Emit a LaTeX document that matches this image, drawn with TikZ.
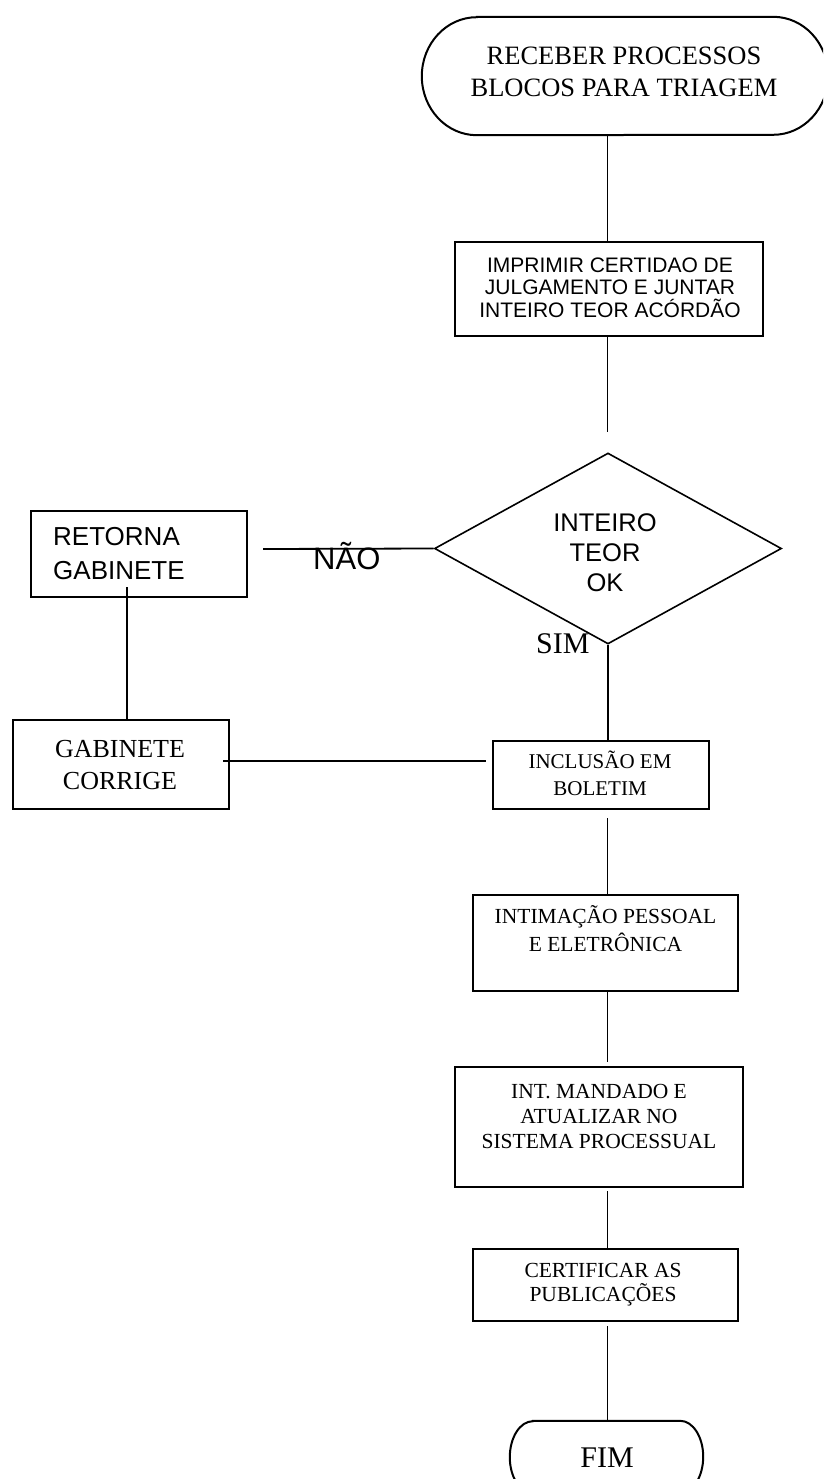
\documentclass[tikz,border=0pt]{standalone}
\usepackage{fontspec}
\setmainfont{Liberation Serif}
\newfontfamily\arialf{Liberation Sans}
\usetikzlibrary{shapes.geometric,fit,calc}
\begin{document}
\begin{tikzpicture}[x=1pt,y=-1pt,
  box/.style={draw, line width=2pt, inner sep=0pt},
  conn/.style={line width=1.8pt},
  tm/.style 2 args={font=\fontsize{#1}{#2}\selectfont, anchor=base, align=center, inner sep=0pt},
  ar/.style 2 args={font=\arialf\fontsize{#1}{#2}\selectfont, anchor=base, align=center, inner sep=0pt},
  termline/.style={line width=2pt}
]
\useasboundingbox (0,0) rectangle (823,1479);
\clip (0,0) rectangle (823,1479);
\coordinate (spine) at (607.5,0);

% start terminal
\node[inner sep=0pt, minimum width=406pt, minimum height=118pt] (start) at (625,76) {};
\draw[termline] ([xshift=55pt]start.north west) -- ([xshift=-55pt]start.north east)
  arc[start angle=90, end angle=-90, x radius=55pt, y radius=59pt]
  -- ([xshift=55pt]start.south west)
  arc[start angle=270, end angle=90, x radius=55pt, y radius=59pt] -- cycle;
\node[tm={26.5}{32}] (tstart) at (624,97) {RECEBER PROCESSOS\\BLOCOS PARA TRIAGEM};

% print box
\node[box, fit={(455,242) (763,336)}] (b2) {};
\node[ar={21}{22.5}] (t2) at (610,317) {IMPRIMIR CERTIDAO DE\\JULGAMENTO E JUNTAR\\INTEIRO TEOR ACÓRDÃO};

% decision
\node[draw, diamond, line width=1.6pt, inner sep=0pt, minimum width=347pt, minimum height=191pt] (dia) at (608,548.5) {};
\node[ar={25.5}{30}] (tdia) at (605,591) {INTEIRO\\TEOR\\OK};

% retorna gabinete
\node[box, fit={(31,511) (247,597)}] (ret) {};
\node[ar={26}{34}, align=left, anchor=base west] (tret) at (53,579) {RETORNA\\GABINETE};

\node[ar={31}{31}, anchor=base west] (nao) at (313,569) {NÃO};
\node[tm={30}{30}, anchor=base west] (sim) at (536,653) {SIM};

% gabinete corrige
\node[box, fit={(13,720) (229,809)}] (cor) {};
\node[tm={26}{32}] (tcor) at (120,789) {GABINETE\\CORRIGE};

% inclusao
\node[box, fit={(493,741) (709,809)}] (inc) {};
\node[tm={21}{27}] (tinc) at (600,795) {INCLUSÃO EM\\BOLETIM};

% intimacao
\node[box, fit={(473,895) (738,991)}] (nInt) {};
\node[tm={21.5}{28}] (tint) at (605.5,951) {INTIMAÇÃO PESSOAL\\E ELETRÔNICA};

% mandado
\node[box, fit={(455,1067) (743,1187)}] (man) {};
\node[tm={21.5}{25}] (tman) at (599,1148) {INT. MANDADO E\\ATUALIZAR NO\\SISTEMA PROCESSUAL};

% certificar
\node[box, fit={(473,1249) (738,1321)}] (cer) {};
\node[tm={21.5}{24}] (tcer) at (603,1301) {CERTIFICAR AS\\PUBLICAÇÕES};

% fim terminal
\node[inner sep=0pt, minimum width=193pt, minimum height=72pt] (fim) at (606.5,1457) {};
\draw[termline] ([xshift=23pt]fim.north west) -- ([xshift=-23pt]fim.north east)
  arc[start angle=90, end angle=-90, x radius=23pt, y radius=36pt]
  -- ([xshift=23pt]fim.south west)
  arc[start angle=270, end angle=90, x radius=23pt, y radius=36pt] -- cycle;
\node[tm={30}{30}] (tfim) at (607,1467) {FIM};

% connectors
\coordinate (nend) at (263,549);
\coordinate (rtop) at (127,587);
\coordinate (hl) at (223,761);
\draw[conn] (spine |- start.south) -- (spine |- b2.north);
\draw[conn] (spine |- b2.south) -- ([yshift=20pt]spine |- dia.north);
\draw[conn] (dia.west) -- (nend);
\draw[conn] (rtop) -- (rtop |- cor.north);
\draw[conn] (hl) -- ([xshift=-6pt]inc.west |- hl);
\draw[conn] (dia.south) -- (dia.south |- inc.north);
\draw[conn] ([yshift=-8pt]spine |- inc.south) -- (spine |- nInt.north);
\draw[conn] (spine |- nInt.south) -- ([yshift=4pt]spine |- man.north);
\draw[conn] ([yshift=-3pt]spine |- man.south) -- (spine |- cer.north);
\draw[conn] ([yshift=-4pt]spine |- cer.south) -- (spine |- fim.north);
\end{tikzpicture}
\end{document}
